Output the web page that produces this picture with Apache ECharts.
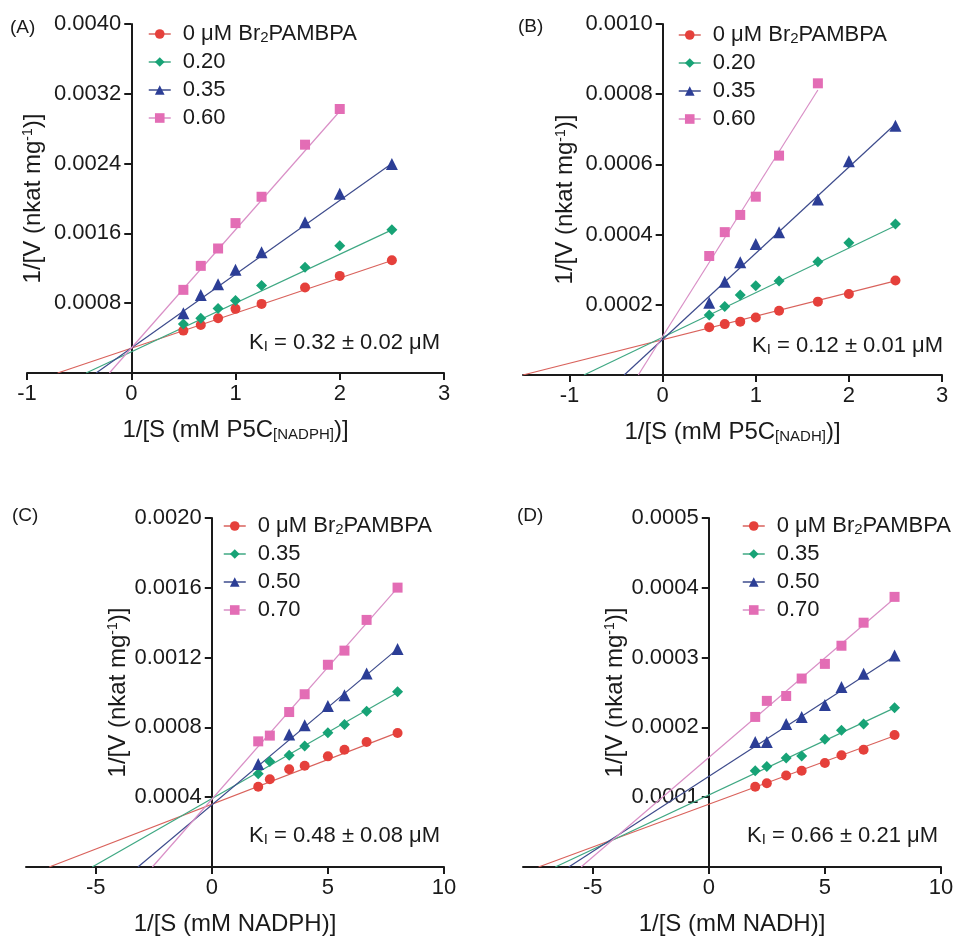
<!DOCTYPE html>
<html>
<head>
<meta charset="utf-8">
<script src="https://cdn.jsdelivr.net/npm/echarts@6/dist/echarts.min.js"></script>
<style>
html,body{margin:0;padding:0;background:#fff;}
#chart{width:961px;height:939px;}
</style>
</head>
<body>
<div id="chart"></div>
<script>
// ---------- DATA ----------
// Panel A: 1/[S] (mM P5C, NADPH)
const xA = [0.5, 0.667, 0.833, 1, 1.25, 1.667, 2, 2.5];
const namesA = ['0 μM Br2PAMBPA', '0.20', '0.35', '0.60'];
const yA_0   = [0.000486, 0.000551, 0.000627, 0.000735, 0.000792, 0.000979, 0.001113, 0.001293];
const yA_20  = [0.000562, 0.000627, 0.000738, 0.000830, 0.001002, 0.001213, 0.001458, 0.001641];
const yA_35  = [0.000685, 0.000895, 0.001018, 0.001182, 0.001385, 0.001729, 0.002055, 0.002395];
const yA_60  = [0.000953, 0.001228, 0.001427, 0.001718, 0.002020, 0.002617, 0.003026, null];
const fitA_0  = [[-0.706, 0], [2.5, 0.00129]];
const fitA_20 = [[-0.433, 0], [2.5, 0.00164]];
const fitA_35 = [[-0.337, 0], [2.5, 0.00240]];
const fitA_60 = [[-0.210, 0], [2.0, 0.00300]];
const xTicksA = [-1, 0, 1, 2, 3];
const yTicksA = [0.0008, 0.0016, 0.0024, 0.0032, 0.0040];

// Panel B: 1/[S] (mM P5C, NADH)
const xB = [0.5, 0.667, 0.833, 1, 1.25, 1.667, 2, 2.5];
const namesB = ['0 μM Br2PAMBPA', '0.20', '0.35', '0.60'];
const yB_0   = [0.000136, 0.000145, 0.000152, 0.000164, 0.000183, 0.000209, 0.000231, 0.000269];
const yB_20  = [0.000171, 0.000195, 0.000228, 0.000254, 0.000268, 0.000323, 0.000377, 0.000430];
const yB_35  = [0.000206, 0.000266, 0.000321, 0.000373, 0.000407, 0.000500, 0.000609, 0.000710];
const yB_60  = [0.000339, 0.000407, 0.000456, 0.000508, 0.000625, 0.000831, null, null];
const fitB_0  = [[-1.5, 0], [2.5, 0.000268]];
const fitB_20 = [[-0.845, 0], [2.5, 0.000425]];
const fitB_35 = [[-0.413, 0], [2.5, 0.000715]];
const fitB_60 = [[-0.262, 0], [1.667, 0.000812]];
const xTicksB = [-1, 0, 1, 2, 3];
const yTicksB = [0.0002, 0.0004, 0.0006, 0.0008, 0.0010];

// Panel C: 1/[S] (mM NADPH)
const xC = [2, 2.5, 3.333, 4, 5, 5.714, 6.667, 8];
const namesC = ['0 μM Br2PAMBPA', '0.35', '0.50', '0.70'];
const yC_0   = [0.000460, 0.000503, 0.000560, 0.000580, 0.000634, 0.000672, 0.000716, 0.000768];
const yC_35  = [0.000535, 0.000605, 0.000640, 0.000693, 0.000770, 0.000816, 0.000893, 0.001005];
const yC_50  = [0.000590, null, 0.000759, 0.000813, 0.000922, 0.000984, 0.001109, 0.001249];
const yC_70  = [0.000720, 0.000753, 0.000888, 0.000990, 0.001159, 0.001240, 0.001416, 0.001601];
const fitC_0  = [[-7.0, 0], [8, 0.00077]];
const fitC_35 = [[-5.15, 0], [8, 0.00100]];
const fitC_50 = [[-3.18, 0], [8, 0.00125]];
const fitC_70 = [[-2.56, 0], [8, 0.00160]];
const xTicksC = [-5, 0, 5, 10];
const yTicksC = [0.0004, 0.0008, 0.0012, 0.0016, 0.0020];

// Panel D: 1/[S] (mM NADH)
const xD = [2, 2.5, 3.333, 4, 5, 5.714, 6.667, 8];
const namesD = ['0 μM Br2PAMBPA', '0.35', '0.50', '0.70'];
const yD_0   = [0.000115, 0.000120, 0.000131, 0.000138, 0.000149, 0.000160, 0.000168, 0.000189];
const yD_35  = [0.000138, 0.000144, 0.000156, 0.000159, 0.000183, 0.000196, 0.000205, 0.000228];
const yD_50  = [0.000179, 0.000179, 0.000205, 0.000215, 0.000232, 0.000258, 0.000277, 0.000303];
const yD_70  = [0.000215, 0.000238, 0.000245, 0.000270, 0.000291, 0.000317, 0.000350, 0.000387];
const fitD_0  = [[-7.33, 0], [8, 0.000188]];
const fitD_35 = [[-6.61, 0], [8, 0.000228]];
const fitD_50 = [[-6.03, 0], [8, 0.000302]];
const fitD_70 = [[-5.50, 0], [8, 0.000385]];
const xTicksD = [-5, 0, 5, 10];
const yTicksD = [0.0001, 0.0002, 0.0003, 0.0004, 0.0005];

const kiTexts = ['0.32 ± 0.02 μM', '0.12 ± 0.01 μM', '0.48 ± 0.08 μM', '0.66 ± 0.21 μM'];
const panelLabels = ['(A)', '(B)', '(C)', '(D)'];
const xTitles = ['1/[S (mM P5C{sub|[NADPH]})]', '1/[S (mM P5C{sub|[NADH]})]', '1/[S (mM NADPH)]', '1/[S (mM NADH)]'];
const yTitle = '1/[V (nkat mg{sup|-1})]';

// ---------- STYLE ----------
const FONT = '"Liberation Sans", Arial, Helvetica, sans-serif';
const TXT = '#1a1a1a';
const COLORS = ['#e5403b', '#17a376', '#2c3e96', '#e36db5'];
const LINECOLORS = ['#d9625c', '#3fa883', '#3d4b8c', '#d98fc6'];
const SYMBOLS = ['circle', 'diamond', 'triangle', 'rect'];
const SIZES = [10, 11, 12, 10];

const panels = [
  { key: 'A', xs: xA, names: namesA, ys: [yA_0, yA_20, yA_35, yA_60], fits: [fitA_0, fitA_20, fitA_35, fitA_60],
    xMin: -1, xMax: 3, yMax: 0.004, xTicks: xTicksA, yTicks: yTicksA,
    grid: { left: 27, top: 24, width: 417, height: 349 }, yGap: 86,
    legend: { left: 148, top: 23 }, ki: { right: 521, top: 331 }, lab: { left: 10, top: 18 } },
  { key: 'B', xs: xB, names: namesB, ys: [yB_0, yB_20, yB_35, yB_60], fits: [fitB_0, fitB_20, fitB_35, fitB_60],
    xMin: -1.5, xMax: 3, yMax: 0.001, xTicks: xTicksB, yTicks: yTicksB,
    grid: { left: 523, top: 24, width: 419, height: 351 }, yGap: 85,
    legend: { left: 678, top: 24 }, ki: { right: 18, top: 334 }, lab: { left: 518, top: 17 } },
  { key: 'C', xs: xC, names: namesC, ys: [yC_0, yC_35, yC_50, yC_70], fits: [fitC_0, fitC_35, fitC_50, fitC_70],
    xMin: -8, xMax: 10, yMax: 0.002, xTicks: xTicksC, yTicks: yTicksC,
    grid: { left: 26, top: 518, width: 418, height: 349 }, yGap: 79,
    legend: { left: 223, top: 515 }, ki: { right: 521, top: 824 }, lab: { left: 12, top: 506 } },
  { key: 'D', xs: xD, names: namesD, ys: [yD_0, yD_35, yD_50, yD_70], fits: [fitD_0, fitD_35, fitD_50, fitD_70],
    xMin: -8, xMax: 10, yMax: 0.0005, xTicks: xTicksD, yTicks: yTicksD,
    grid: { left: 523, top: 518, width: 418, height: 349 }, yGap: 77,
    legend: { left: 742, top: 515 }, ki: { right: 23, top: 824 }, lab: { left: 517, top: 506 } }
];

const grids = [], xAxes = [], yAxes = [], series = [], legends = [], titles = [];
const richSub = { fontSize: 15, fontFamily: FONT, color: TXT, verticalAlign: 'bottom', padding: [9, 0, 0, 0] };
const richSup = { fontSize: 14, fontFamily: FONT, color: TXT, verticalAlign: 'top', padding: [0, 0, 9, 0] };

panels.forEach((p, idx) => {
  grids.push(Object.assign({ containLabel: false, outerBoundsMode: 'none' }, p.grid));
  // y axis sits at x = 0: shift it into the grid by the pixel distance of zero from the left edge
  const zeroOffset = -(0 - p.xMin) / (p.xMax - p.xMin) * p.grid.width;
  xAxes.push({
    type: 'value', gridIndex: idx, min: p.xMin, max: p.xMax, position: 'bottom',
    name: xTitles[idx], nameLocation: 'middle', nameGap: 45,
    nameTextStyle: { fontSize: 24, fontFamily: FONT, color: TXT, rich: { sub: richSub } },
    axisLine: { onZero: false, lineStyle: { color: '#1a1a1a', width: 2 } },
    axisTick: { show: true, length: 7, lineStyle: { color: '#1a1a1a', width: 2 }, customValues: p.xTicks },
    axisLabel: { fontSize: 22, fontFamily: FONT, color: TXT, margin: 10, customValues: p.xTicks, formatter: v => String(v) },
    splitLine: { show: false }
  });
  yAxes.push({
    type: 'value', gridIndex: idx, min: 0, max: p.yMax, position: 'left', offset: zeroOffset,
    name: yTitle, nameLocation: 'middle', nameGap: p.yGap,
    nameTextStyle: { fontSize: 24, fontFamily: FONT, color: TXT, rich: { sup: richSup } },
    axisLine: { show: true, onZero: false, lineStyle: { color: '#1a1a1a', width: 2 } },
    axisTick: { show: true, length: 7, lineStyle: { color: '#1a1a1a', width: 2 }, customValues: p.yTicks },
    axisLabel: { fontSize: 22, fontFamily: FONT, color: TXT, margin: 10, customValues: p.yTicks, formatter: v => v.toFixed(4) },
    splitLine: { show: false }
  });
  p.fits.forEach((f, i) => {
    series.push({
      type: 'line', name: p.key + ' fit ' + i, xAxisIndex: idx, yAxisIndex: idx,
      data: f, symbol: 'none', silent: true, z: 2,
      lineStyle: { color: LINECOLORS[i], width: 1.2 }
    });
  });
  p.ys.forEach((ys, i) => {
    const pts = [];
    p.xs.forEach((x, j) => { if (ys[j] != null) pts.push([x, ys[j]]); });
    series.push({
      type: 'line', name: p.key + ': ' + p.names[i], xAxisIndex: idx, yAxisIndex: idx,
      data: pts, symbol: SYMBOLS[i], symbolSize: SIZES[i], showSymbol: true, z: 3,
      itemStyle: { color: COLORS[i] },
      lineStyle: { color: LINECOLORS[i], width: 0, opacity: 0 },
      emphasis: { disabled: true }
    });
  });
  legends.push({
    data: p.names.map(n => p.key + ': ' + n),
    orient: 'vertical', left: p.legend.left, top: p.legend.top, padding: 0,
    itemWidth: 22, itemHeight: 12, itemGap: 6, selectedMode: false,
    formatter: name => name.split(': ')[1].replace('Br2', 'Br{sub|2}'),
    lineStyle: { width: 1.5, opacity: 1 },
    textStyle: { fontSize: 22, fontFamily: FONT, color: TXT, padding: [0, 0, 0, 7], lineHeight: 22,
      rich: { sub: { fontSize: 15, fontFamily: FONT, color: TXT, verticalAlign: 'bottom', padding: [8, 0, 0, 0] } } }
  });
  titles.push({
    text: 'K{s|I} = ' + kiTexts[idx], right: p.ki.right, top: p.ki.top, padding: 0,
    textStyle: { fontSize: 22, fontWeight: 'normal', fontFamily: FONT, color: TXT,
      rich: { s: { fontSize: 15, fontFamily: FONT, color: TXT, verticalAlign: 'bottom', padding: [8, 0, 0, 0] } } }
  });
  titles.push({
    text: panelLabels[idx], left: p.lab.left, top: p.lab.top, padding: 0,
    textStyle: { fontSize: 19, fontWeight: 'normal', fontFamily: FONT, color: TXT }
  });
});

const chart = echarts.init(document.getElementById('chart'), null, { renderer: 'canvas' });
chart.setOption({
  backgroundColor: '#ffffff',
  animation: false,
  title: titles,
  grid: grids,
  xAxis: xAxes,
  yAxis: yAxes,
  legend: legends,
  series: series
});
</script>
</body>
</html>
